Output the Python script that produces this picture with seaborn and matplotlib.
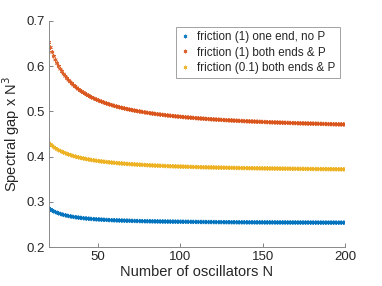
import matplotlib
matplotlib.use('Agg')
import matplotlib.pyplot as plt
import numpy as np
import pandas as pd
import seaborn as sns

# number of oscillators
n_start, n_stop = 20, 200

# spectral gap x N^3 (one value per N = 20..200)
gap_one_end = [
    0.2855, 0.2831, 0.2810, 0.2791, 0.2774, 0.2759, 0.2746, 0.2733, 0.2722, 0.2712,
    0.2703, 0.2695, 0.2687, 0.2680, 0.2673, 0.2667, 0.2662, 0.2657, 0.2652, 0.2647,
    0.2643, 0.2639, 0.2635, 0.2631, 0.2628, 0.2625, 0.2622, 0.2619, 0.2617, 0.2614,
    0.2612, 0.2609, 0.2607, 0.2605, 0.2603, 0.2601, 0.2599, 0.2597, 0.2596, 0.2594,
    0.2593, 0.2591, 0.2590, 0.2589, 0.2587, 0.2586, 0.2585, 0.2584, 0.2583, 0.2582,
    0.2580, 0.2579, 0.2578, 0.2577, 0.2577, 0.2576, 0.2575, 0.2574, 0.2573, 0.2572,
    0.2572, 0.2571, 0.2570, 0.2570, 0.2569, 0.2568, 0.2568, 0.2567, 0.2566, 0.2566,
    0.2565, 0.2565, 0.2564, 0.2564, 0.2563, 0.2563, 0.2562, 0.2562, 0.2561, 0.2561,
    0.2560, 0.2560, 0.2559, 0.2559, 0.2559, 0.2558, 0.2558, 0.2557, 0.2557, 0.2557,
    0.2556, 0.2556, 0.2556, 0.2555, 0.2555, 0.2555, 0.2554, 0.2554, 0.2554, 0.2554,
    0.2553, 0.2553, 0.2553, 0.2552, 0.2552, 0.2552, 0.2552, 0.2551, 0.2551, 0.2551,
    0.2551, 0.2550, 0.2550, 0.2550, 0.2550, 0.2549, 0.2549, 0.2549, 0.2549, 0.2549,
    0.2548, 0.2548, 0.2548, 0.2548, 0.2548, 0.2547, 0.2547, 0.2547, 0.2547, 0.2547,
    0.2547, 0.2546, 0.2546, 0.2546, 0.2546, 0.2546, 0.2546, 0.2546, 0.2545, 0.2545,
    0.2545, 0.2545, 0.2545, 0.2545, 0.2545, 0.2544, 0.2544, 0.2544, 0.2544, 0.2544,
    0.2544, 0.2543, 0.2543, 0.2543, 0.2543, 0.2543, 0.2543, 0.2543, 0.2543, 0.2542,
    0.2542, 0.2542, 0.2542, 0.2542, 0.2542, 0.2542, 0.2541, 0.2541, 0.2541, 0.2541,
    0.2541, 0.2541, 0.2541, 0.2541, 0.2541, 0.2540, 0.2540, 0.2540, 0.2540, 0.2540,
    0.2540,
]

gap_both_ends = [
    0.6520, 0.6409, 0.6309, 0.6219, 0.6138, 0.6064, 0.5996, 0.5934, 0.5878, 0.5825,
    0.5777, 0.5732, 0.5690, 0.5651, 0.5614, 0.5580, 0.5548, 0.5518, 0.5489, 0.5462,
    0.5437, 0.5413, 0.5390, 0.5369, 0.5348, 0.5329, 0.5310, 0.5292, 0.5275, 0.5259,
    0.5244, 0.5229, 0.5215, 0.5201, 0.5188, 0.5175, 0.5163, 0.5151, 0.5140, 0.5130,
    0.5119, 0.5109, 0.5099, 0.5090, 0.5081, 0.5072, 0.5064, 0.5055, 0.5047, 0.5040,
    0.5032, 0.5025, 0.5018, 0.5011, 0.5004, 0.4998, 0.4992, 0.4986, 0.4980, 0.4974,
    0.4968, 0.4963, 0.4957, 0.4952, 0.4947, 0.4942, 0.4937, 0.4933, 0.4928, 0.4923,
    0.4919, 0.4915, 0.4910, 0.4906, 0.4902, 0.4899, 0.4895, 0.4891, 0.4887, 0.4884,
    0.4880, 0.4877, 0.4874, 0.4870, 0.4867, 0.4864, 0.4861, 0.4858, 0.4855, 0.4852,
    0.4849, 0.4846, 0.4843, 0.4840, 0.4838, 0.4835, 0.4833, 0.4830, 0.4828, 0.4825,
    0.4823, 0.4820, 0.4818, 0.4816, 0.4814, 0.4811, 0.4809, 0.4807, 0.4805, 0.4803,
    0.4801, 0.4799, 0.4797, 0.4795, 0.4793, 0.4791, 0.4789, 0.4788, 0.4786, 0.4784,
    0.4782, 0.4781, 0.4779, 0.4777, 0.4776, 0.4774, 0.4772, 0.4771, 0.4769, 0.4768,
    0.4766, 0.4765, 0.4763, 0.4762, 0.4760, 0.4759, 0.4758, 0.4756, 0.4755, 0.4754,
    0.4752, 0.4751, 0.4750, 0.4748, 0.4747, 0.4746, 0.4745, 0.4743, 0.4742, 0.4741,
    0.4740, 0.4739, 0.4737, 0.4736, 0.4735, 0.4734, 0.4733, 0.4732, 0.4731, 0.4730,
    0.4729, 0.4728, 0.4727, 0.4726, 0.4725, 0.4724, 0.4723, 0.4722, 0.4721, 0.4720,
    0.4719, 0.4718, 0.4717, 0.4716, 0.4715, 0.4714, 0.4713, 0.4713, 0.4712, 0.4711,
    0.4710,
]

gap_both_ends_small = [
    0.4300, 0.4268, 0.4238, 0.4210, 0.4186, 0.4163, 0.4143, 0.4124, 0.4106, 0.4090,
    0.4075, 0.4061, 0.4047, 0.4035, 0.4023, 0.4013, 0.4002, 0.3993, 0.3984, 0.3975,
    0.3967, 0.3959, 0.3952, 0.3944, 0.3938, 0.3931, 0.3925, 0.3919, 0.3914, 0.3908,
    0.3903, 0.3898, 0.3894, 0.3889, 0.3885, 0.3881, 0.3877, 0.3873, 0.3869, 0.3865,
    0.3862, 0.3858, 0.3855, 0.3852, 0.3849, 0.3846, 0.3843, 0.3840, 0.3838, 0.3835,
    0.3832, 0.3830, 0.3828, 0.3825, 0.3823, 0.3821, 0.3819, 0.3817, 0.3815, 0.3813,
    0.3811, 0.3809, 0.3807, 0.3805, 0.3803, 0.3801, 0.3800, 0.3798, 0.3797, 0.3795,
    0.3794, 0.3792, 0.3791, 0.3789, 0.3788, 0.3786, 0.3785, 0.3784, 0.3782, 0.3781,
    0.3780, 0.3779, 0.3778, 0.3776, 0.3775, 0.3774, 0.3773, 0.3772, 0.3771, 0.3770,
    0.3769, 0.3768, 0.3767, 0.3766, 0.3765, 0.3764, 0.3763, 0.3762, 0.3761, 0.3761,
    0.3760, 0.3759, 0.3758, 0.3757, 0.3757, 0.3756, 0.3755, 0.3754, 0.3754, 0.3753,
    0.3752, 0.3751, 0.3751, 0.3750, 0.3749, 0.3749, 0.3748, 0.3747, 0.3747, 0.3746,
    0.3746, 0.3745, 0.3744, 0.3744, 0.3743, 0.3743, 0.3742, 0.3741, 0.3741, 0.3740,
    0.3740, 0.3739, 0.3739, 0.3738, 0.3738, 0.3737, 0.3737, 0.3736, 0.3736, 0.3735,
    0.3735, 0.3734, 0.3734, 0.3733, 0.3733, 0.3733, 0.3732, 0.3732, 0.3731, 0.3731,
    0.3730, 0.3730, 0.3730, 0.3729, 0.3729, 0.3728, 0.3728, 0.3728, 0.3727, 0.3727,
    0.3727, 0.3726, 0.3726, 0.3725, 0.3725, 0.3725, 0.3724, 0.3724, 0.3724, 0.3723,
    0.3723, 0.3723, 0.3722, 0.3722, 0.3722, 0.3721, 0.3721, 0.3721, 0.3720, 0.3720,
    0.3720,
]

labels = ['friction (1) one end, no P',
          'friction (1) both ends & P',
          'friction (0.1) both ends & P']
colors = ['#0072BD', '#D95319', '#EDB120']

n_values = list(range(n_start, n_stop + 1))
df = pd.concat([
    pd.DataFrame({'N': n_values, 'gap': gap_one_end, 'case': labels[0]}),
    pd.DataFrame({'N': n_values, 'gap': gap_both_ends, 'case': labels[1]}),
    pd.DataFrame({'N': n_values, 'gap': gap_both_ends_small, 'case': labels[2]}),
])

sns.set_style('ticks')
plt.rcParams['font.family'] = ['Liberation Sans', 'DejaVu Sans']
text_color = '#262626'

fig = plt.figure(figsize=(3.82, 2.86), dpi=100)
ax = fig.add_axes([0.128, 0.136, 0.775, 0.791])

sns.scatterplot(data=df, x='N', y='gap', hue='case', palette=colors,
                marker=(6, 2, 0), s=7, linewidth=0.55, edgecolor=None,
                alpha=0.9, ax=ax)

ax.set_xlim(20, 200)
ax.set_ylim(0.2, 0.7)
ax.set_xticks([50, 100, 150, 200])
ax.set_yticks([0.2, 0.3, 0.4, 0.5, 0.6, 0.7])
ax.set_yticklabels(['0.2', '0.3', '0.4', '0.5', '0.6', '0.7'])
ax.tick_params(direction='in', length=3, width=0.6, colors='#6e6e6e',
               labelcolor=text_color, labelsize=9.5, pad=3)
for side in ['top', 'right']:
    ax.spines[side].set_visible(False)
for side in ['left', 'bottom']:
    ax.spines[side].set_color('#8a8a8a')
    ax.spines[side].set_linewidth(0.7)

ax.set_xlabel('Number of oscillators N', fontsize=10.5, color=text_color, labelpad=1)
ax.set_ylabel('Spectral gap x N$^3$', fontsize=10.5, color=text_color, labelpad=3)

handles, _ = ax.get_legend_handles_labels()
leg = ax.legend(handles, labels, loc='upper right', bbox_to_anchor=(0.99, 0.985),
                fontsize=8.4, frameon=True, fancybox=False, handlelength=0.8,
                handletextpad=0.6, borderpad=0.4, labelspacing=0.28,
                markerscale=1.0, borderaxespad=0.2)
leg.get_frame().set_edgecolor('#8a8a8a')
leg.get_frame().set_linewidth(0.7)
for t in leg.get_texts():
    t.set_color(text_color)

fig.savefig('out.png', dpi=100)
